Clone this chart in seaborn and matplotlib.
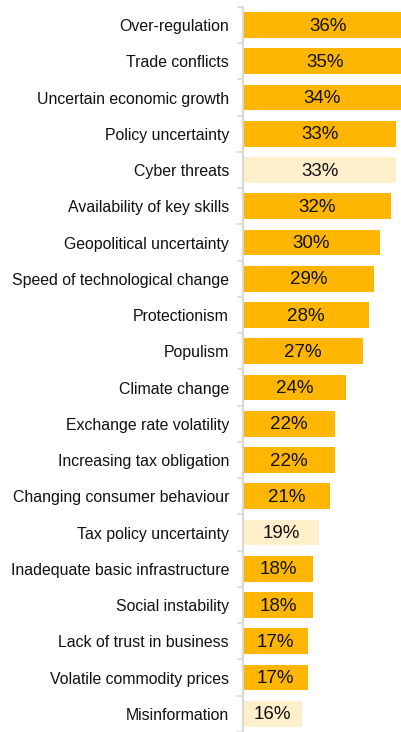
import matplotlib
matplotlib.use("Agg")
import matplotlib.pyplot as plt
import seaborn as sns
import pandas as pd
import numpy as np

# Risk categories, top to bottom
risks = [
    "Over-regulation",
    "Trade conflicts",
    "Uncertain economic growth",
    "Policy uncertainty",
    "Cyber threats",
    "Availability of key skills",
    "Geopolitical uncertainty",
    "Speed of technological change",
    "Protectionism",
    "Populism",
    "Climate change",
    "Exchange rate volatility",
    "Increasing tax obligation",
    "Changing consumer behaviour",
    "Tax policy uncertainty",
    "Inadequate basic infrastructure",
    "Social instability",
    "Lack of trust in business",
    "Volatile commodity prices",
    "Misinformation",
]
# Share of respondents naming each risk (%)
shares = [36, 35, 34, 33, 33, 32, 30, 29, 28, 27, 24, 22, 22, 21, 19, 18, 18, 17, 17, 16]
# Highlighted (light) risks vs. standard ones
groups = ["main", "main", "main", "main", "light", "main", "main", "main", "main", "main",
          "main", "main", "main", "main", "light", "main", "main", "main", "main", "light"]

palette = {"main": "#FFB600", "light": "#FFEFCB"}

df = pd.DataFrame({"risk": risks, "share": shares, "group": groups})

sns.set_theme(style="white")
plt.rcParams["font.family"] = ["Liberation Sans", "DejaVu Sans"]

fig = plt.figure(figsize=(4.01, 7.32), dpi=100)
ax = fig.add_axes([243 / 401, 0.0, 158 / 401, 1.0])

sns.barplot(data=df, y="risk", x="share", hue="group", palette=palette,
            saturation=1, dodge=False, width=0.71, legend=False, linewidth=0, ax=ax)

x_left = 5.3
ax.set_xlim(x_left, x_left + 158 / 5.53)
ax.set_ylim(-0.691 + 732 / 36.6, -0.691)

# Value labels, centred on the visible part of each bar
for i, v in enumerate(shares):
    ax.text((x_left + v) / 2, i + 0.03, f"{v}%", ha="center", va="center",
            fontsize=13.5, color="#111111")

for side in ["top", "right", "bottom"]:
    ax.spines[side].set_visible(False)
ax.spines["left"].set_color("#D9D9D9")
ax.spines["left"].set_linewidth(1.5)
ax.spines["left"].set_bounds(-0.5, len(risks) - 0.5)

ax.set_xticks([])
ax.set_xlabel("")
ax.set_ylabel("")
ax.tick_params(axis="y", which="major", length=0, pad=10, labelsize=11.4,
               labelcolor="#111111")
ax.set_yticks(np.arange(-0.5, len(risks), 1.0), minor=True)
ax.tick_params(axis="y", which="minor", length=4, width=1.2, color="#D9D9D9", left=True)

fig.savefig("out.png", dpi=100)
